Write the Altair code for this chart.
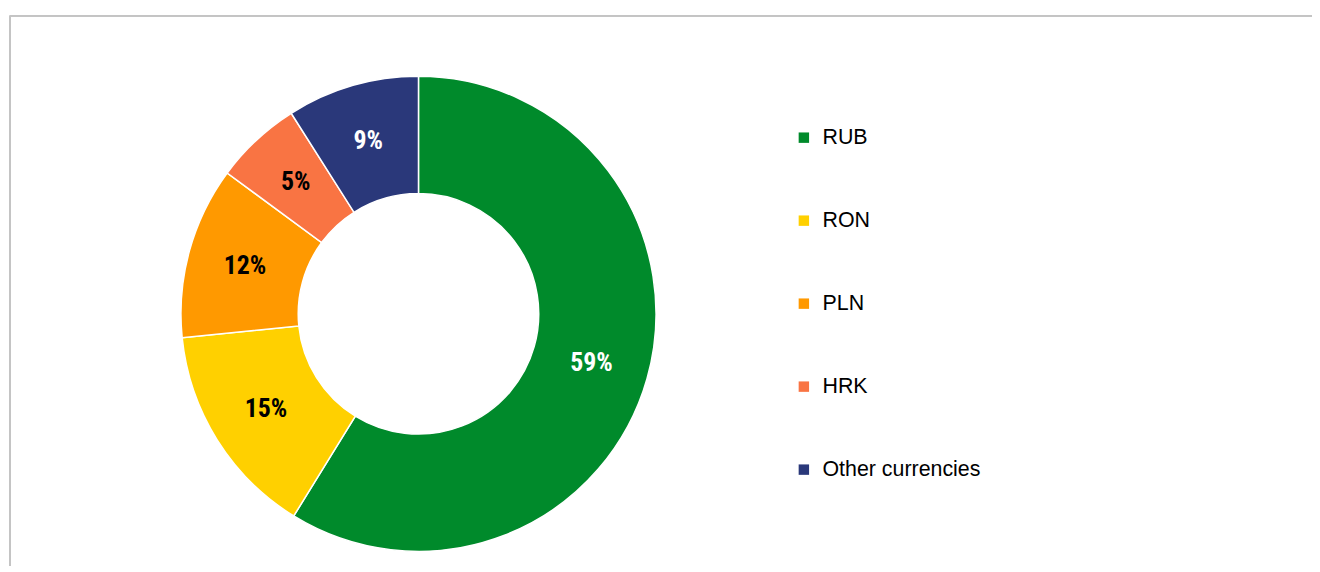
import altair as alt
import pandas as pd

categories = ["RUB", "RON", "PLN", "HRK", "Other currencies"]
values = [58.8, 14.6, 11.7, 5.9, 9.0]
labels = ["59%", "15%", "12%", "5%", "9%"]
label_on_dark = [True, False, False, False, True]
colors = ["#008A2B", "#FFD000", "#FF9900", "#F97443", "#2A387A"]

df = pd.DataFrame({
    "cat": categories,
    "value": values,
    "label": labels,
    "dark": label_on_dark,
    "idx": list(range(len(categories))),
})

W, H = 1312, 558
cx, cy = 413, 306

base = alt.Chart(df).encode(
    theta=alt.Theta("value:Q", stack=True),
    order=alt.Order("idx:Q", sort="ascending"),
)

arcs = base.mark_arc(
    outerRadius=239, innerRadius=121, stroke="white", strokeWidth=1.5
).encode(
    x=alt.value(cx),
    y=alt.value(cy),
    color=alt.Color(
        "cat:N",
        scale=alt.Scale(domain=categories, range=colors),
        sort=categories,
        legend=alt.Legend(
            title=None,
            orient="none",
            legendX=790,
            legendY=118,
            symbolType="square",
            symbolSize=110,
            symbolStrokeWidth=0,
            labelFontSize=21.5,
            labelFont="Liberation Sans",
            labelColor="#000000",
            labelOffset=8,
            rowPadding=60.5,
            labelLimit=400,
        ),
    ),
)

text = base.mark_text(
    radius=181,
    font="Liberation Sans Narrow, Arial Narrow, Roboto Condensed, DejaVu Sans Condensed",
    fontSize=26,
    fontWeight="bold",
    align="center",
    baseline="middle",
).encode(
    x=alt.value(cx),
    y=alt.value(cy),
    text="label:N",
    color=alt.condition(alt.datum.dark, alt.value("white"), alt.value("black")),
)

frame_top = alt.Chart(df).mark_rule(color="#c4c4c4", strokeWidth=1.5).encode(
    x=alt.value(2), x2=alt.value(W + 20), y=alt.value(6)
)
frame_left = alt.Chart(df).mark_rule(color="#c4c4c4", strokeWidth=1.5).encode(
    x=alt.value(2), y=alt.value(6), y2=alt.value(H + 20)
)

chart = alt.layer(frame_top, frame_left, arcs, text).properties(
    width=W, height=H, padding=0, autosize=alt.AutoSizeParams(type="none")
).configure_view(stroke=None)

chart.save("out.html", embed_options={"renderer": "svg", "actions": False})
